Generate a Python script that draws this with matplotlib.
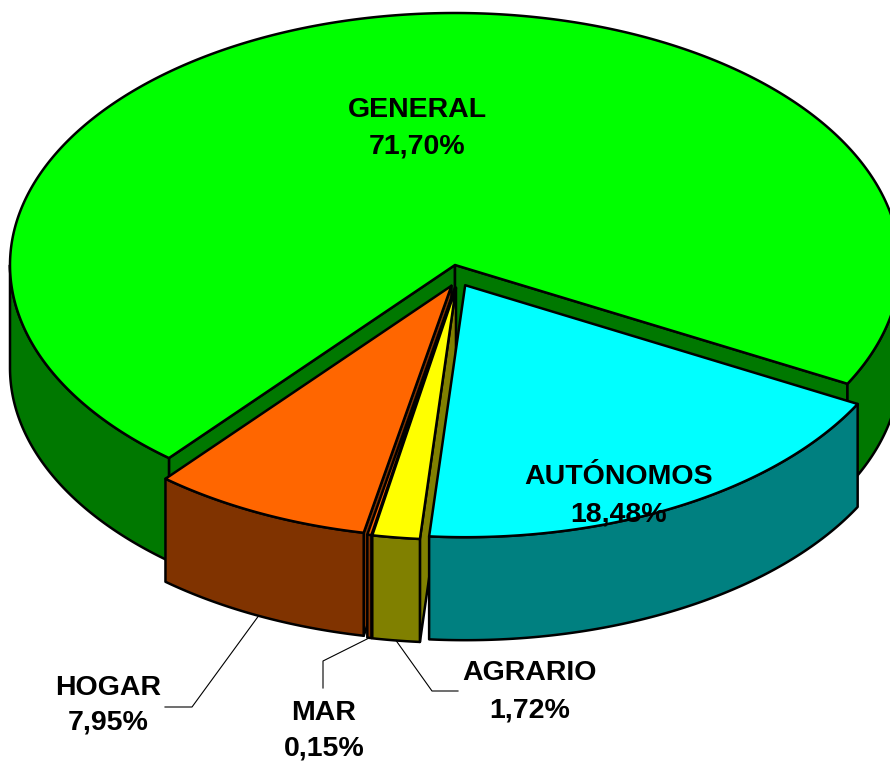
import numpy as np
import matplotlib
matplotlib.use("Agg")
import matplotlib.pyplot as plt
from matplotlib.patches import Polygon

# ---- data ----
labels = ["GENERAL", "AUTÓNOMOS", "AGRARIO", "MAR", "HOGAR"]
values = [71.70, 18.48, 1.72, 0.15, 7.95]
value_text = ["71,70%", "18,48%", "1,72%", "0,15%", "7,95%"]
top_colors = ["#00FF00", "#00FFFF", "#FFFF00", "#FF6600", "#FF6600"]
wall_colors = ["#007800", "#008080", "#808000", "#803300", "#803300"]
explode = [0, 1, 1, 1, 1]

# ---- geometry / layout ----
W, H = 890, 763
cx, cy = 455, 265
rx, ry = 445, 252
depth = 103
ex, ey, bx = 15, 23, 3
start_angle = 230.0  # degrees, slices go clockwise
lw = 1.8

fig = plt.figure(figsize=(W / 100, H / 100), dpi=100)
ax = fig.add_axes([0, 0, 1, 1])
ax.set_xlim(0, W)
ax.set_ylim(H, 0)
ax.axis("off")

total = sum(values)
angles = []
a = start_angle
for v in values:
    a_hi = a
    a_lo = a - 360.0 * v / total
    angles.append((a_lo, a_hi))
    a = a_lo


def pt(t_deg, ox, oy, z=0.0):
    t = np.radians(t_deg)
    return cx + ox + rx * np.cos(t), cy + oy - ry * np.sin(t) + z


def arc(t0, t1, ox, oy, z=0.0, n=None):
    if n is None:
        n = max(2, int(abs(t1 - t0) * 2) + 2)
    ts = np.linspace(t0, t1, n)
    return [pt(t, ox, oy, z) for t in ts]


def poly(points, fc, zo):
    ax.add_patch(Polygon(points, closed=True, facecolor=fc, edgecolor="black",
                         linewidth=lw, joinstyle="round", zorder=zo))


offsets = []
for i, (a_lo, a_hi) in enumerate(angles):
    m = np.radians((a_lo + a_hi) / 2)
    offsets.append((explode[i] * (ex * np.cos(m) + bx), -explode[i] * ey * np.sin(m)))

# drawing order: GENERAL (back), then HOGAR, MAR, AGRARIO, AUTÓNOMOS
order = [0, 4, 3, 2, 1]
zo = 1
for i in order:
    a_lo, a_hi = angles[i]
    ox, oy = offsets[i]
    apex = (cx + ox, cy + oy)
    apex_b = (cx + ox, cy + oy + depth)
    # radial faces
    if np.cos(np.radians(a_hi)) < 0:
        p_t = pt(a_hi, ox, oy)
        p_b = pt(a_hi, ox, oy, depth)
        poly([apex, p_t, p_b, apex_b], wall_colors[i], zo)
        zo += 1
    if np.cos(np.radians(a_lo)) > 0:
        p_t = pt(a_lo, ox, oy)
        p_b = pt(a_lo, ox, oy, depth)
        poly([apex, p_t, p_b, apex_b], wall_colors[i], zo)
        zo += 1
    # outer walls (front half: angles in [-180, 0] mod 360)
    for k in range(-2, 2):
        lo = max(a_lo, -180 + 360 * k)
        hi = min(a_hi, 0 + 360 * k)
        if hi > lo:
            top = arc(lo, hi, ox, oy)
            bot = arc(hi, lo, ox, oy, depth)
            poly(top + bot, wall_colors[i], zo)
            zo += 1
    # top face
    poly([apex] + arc(a_lo, a_hi, ox, oy), top_colors[i], zo)
    zo += 1

font = dict(family=["Liberation Sans", "DejaVu Sans"], fontweight="bold",
            fontsize=20.5, color="black", ha="center", va="center", zorder=100)

# inside labels
inside_pos = {0: (417, 110, 147), 1: (619, 477, 514)}
for i, (x, y1, y2) in inside_pos.items():
    ax.text(x, y1, labels[i], **font)
    ax.text(x, y2, value_text[i], **font)

# outside labels with leader lines
outside = {
    4: dict(text=(108, 688, 723), elbow=(192, 707), end=(165, 707)),
    3: dict(text=(324, 713, 749), elbow=(323, 661), end=(323, 688)),
    2: dict(text=(530, 673, 710), elbow=(432, 691), end=(458, 691)),
}
for i, d in outside.items():
    a_lo, a_hi = angles[i]
    ox, oy = offsets[i]
    anchor = pt((a_lo + a_hi) / 2, ox, oy, depth)
    xs = [anchor[0], d["elbow"][0], d["end"][0]]
    ys = [anchor[1], d["elbow"][1], d["end"][1]]
    ax.plot(xs, ys, color="black", linewidth=0.8, zorder=90)
    x, y1, y2 = d["text"]
    ax.text(x, y1, labels[i], **font)
    ax.text(x, y2, value_text[i], **font)

fig.savefig("out.png", dpi=100)
